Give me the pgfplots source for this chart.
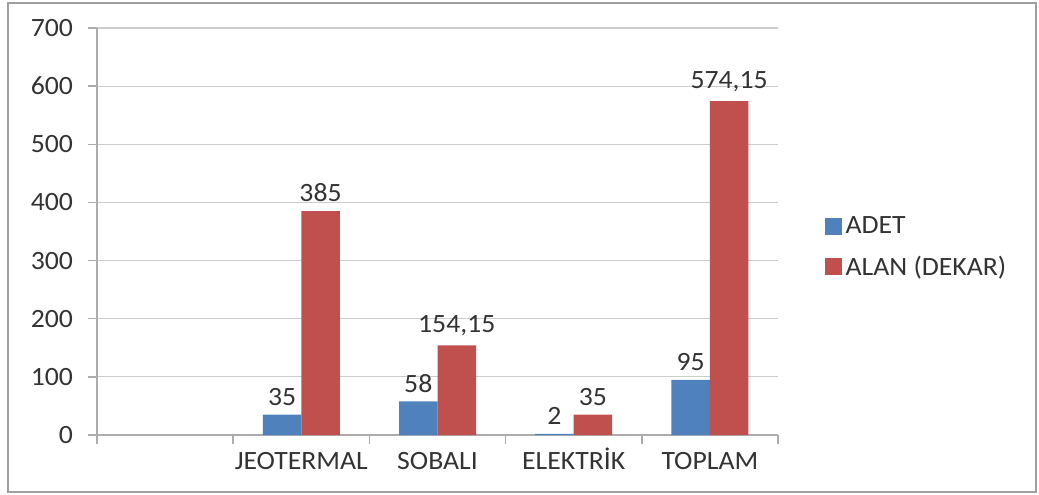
\documentclass[border=0pt]{standalone}
\usepackage{pgfplots}
\pgfplotsset{compat=1.18}
\usepackage{fontspec}
\setmainfont[FakeStretch=1.05]{Carlito}
\definecolor{xblue}{RGB}{79,129,189}
\definecolor{xred}{RGB}{192,80,77}
\begin{document}
\begin{tikzpicture}[font=\fontsize{13.2}{15}\selectfont]
\path[use as bounding box] (-48.5pt,-29.5pt) rectangle (471pt,217.5pt);
\draw[gray!75, line width=1pt] (-44.5pt,-28.5pt) rectangle (469.5pt,216pt);
\begin{axis}[
  at={(0,0)}, anchor=south west,
  scale only axis, width=340.5pt, height=203.5pt,
  xmin=-0.5, xmax=4.5, ymin=0, ymax=700,
  ybar=0pt, bar width=19.25pt,
  ytick={0,100,...,700},
  ymajorgrids, grid style={color=gray!40, line width=0.6pt},
  xtick={-0.5,0.5,...,4.5}, xticklabels={},
  extra x ticks={1,2,3,4},
  extra x tick labels={JEOTERMAL,SOBALI,ELEKTRİK,TOPLAM},
  extra x tick style={major tick length=0pt, grid=none},
  tick align=outside, major tick length=4.5pt,
  axis x line*=bottom, axis y line*=left,
  axis line style={color=gray!65, line width=0.7pt},
  tick style={color=gray!65, line width=0.7pt},
  ticklabel style={text=black!80},
  yticklabel style={anchor=east, xshift=-4pt},
  xticklabel style={anchor=north, yshift=-5pt, text height=8.6pt, text depth=2pt},
  /pgf/number format/assume math mode=true,
  nodes near coords, point meta=explicit symbolic,
  every node near coord/.append style={text=black!80, yshift=1pt},
  legend style={at={(rel axis cs:1.059,0.4607)}, anchor=west, draw=none, fill=none,
    row sep=5.5pt, cells={anchor=west}, text=black!80},
  legend image code/.code={\fill[#1] (0pt,-4.25pt) rectangle (8.5pt,4.25pt);},
]
\addplot[fill=xblue, draw=none] table[meta=label] {
x y label
1 35 35
2 58 58
3 2 2
4 95 95
};
\addplot[fill=xred, draw=none] table[meta=label] {
x y label
1 385 385
2 154.15 154,15
3 35 35
4 574.15 574,15
};
\legend{ADET, ALAN (DEKAR)}
\end{axis}
\end{tikzpicture}
\end{document}
